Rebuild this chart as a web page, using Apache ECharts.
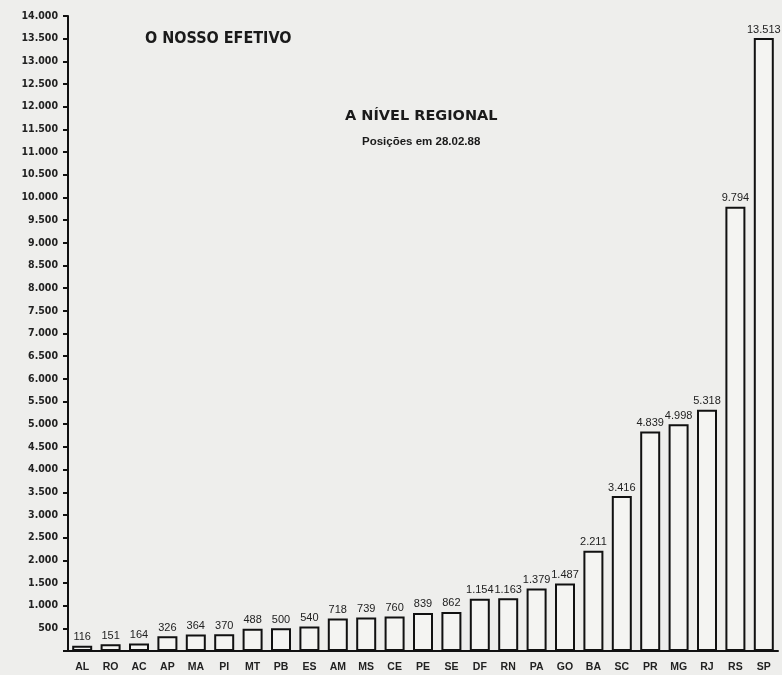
<!DOCTYPE html>
<html>
<head>
<meta charset="utf-8">
<script src="https://cdn.jsdelivr.net/npm/echarts@6/dist/echarts.min.js"></script>
<style>
  html, body { margin: 0; padding: 0; background: #eeeeec; }
  #chart { width: 782px; height: 675px; }
</style>
</head>
<body>
<div id="chart"></div>
<script>
// regions (UF) and headcount at 28.02.88
const states = ['AL', 'RO', 'AC', 'AP', 'MA', 'PI', 'MT', 'PB', 'ES', 'AM', 'MS', 'CE', 'PE',
  'SE', 'DF', 'RN', 'PA', 'GO', 'BA', 'SC', 'PR', 'MG', 'RJ', 'RS', 'SP'];
const headcount = [116, 151, 164, 326, 364, 370, 488, 500, 540, 718, 739, 760, 839,
  862, 1154, 1163, 1379, 1487, 2211, 3416, 4839, 4998, 5318, 9794, 13513];
const yMax = 14000;
const yStep = 500;

// 13513 -> "13.513"
const fmt = (v) => String(v).replace(/\B(?=(\d{3})+(?!\d))/g, '.');

const chart = echarts.init(document.getElementById('chart'));

const option = {
  backgroundColor: '#eeeeec',
  animation: false,
  title: [
    {
      text: 'O NOSSO EFETIVO',
      left: 140, top: 26,
      textStyle: { fontFamily: 'DejaVu Sans Condensed, Liberation Sans Narrow, sans-serif', fontSize: 16, fontWeight: 'bold', color: '#1a1a1a' }
    },
    {
      text: 'A NÍVEL REGIONAL',
      left: 340, top: 104,
      textStyle: { fontFamily: 'DejaVu Sans, Liberation Sans, sans-serif', fontSize: 14.5, fontWeight: 'bold', color: '#1a1a1a' }
    },
    {
      text: 'Posições em 28.02.88',
      left: 357, top: 131,
      textStyle: { fontFamily: 'Liberation Sans, Arial, sans-serif', fontSize: 11.5, fontWeight: 'bold', color: '#1a1a1a' }
    }
  ],
  grid: { left: 68, right: 4, top: 16, bottom: 24 },
  xAxis: {
    type: 'category',
    data: states,
    axisLine: { lineStyle: { color: '#111', width: 2 } },
    axisTick: { show: false },
    axisLabel: {
      interval: 0, margin: 11,
      fontFamily: 'Liberation Sans, Arial, sans-serif',
      fontSize: 10.5, fontWeight: 'bold', color: '#222'
    }
  },
  yAxis: {
    type: 'value',
    min: 0, max: yMax, interval: yStep,
    axisLine: { show: true, lineStyle: { color: '#111', width: 2 } },
    axisTick: { show: true, length: 5, lineStyle: { color: '#111', width: 2 } },
    splitLine: { show: false },
    axisLabel: {
      margin: 10,
      fontFamily: 'DejaVu Sans Condensed, Liberation Sans, sans-serif',
      fontSize: 10.5, fontWeight: 'bold', color: '#222',
      formatter: (v) => (v === 0 ? '' : fmt(v))
    }
  },
  series: [
    {
      type: 'bar',
      data: headcount,
      barWidth: 20,
      itemStyle: { color: '#f4f4f2', borderColor: '#111', borderWidth: 2 },
      label: {
        show: true, position: 'top', distance: 3,
        fontFamily: 'Liberation Sans, Arial, sans-serif',
        fontSize: 11, color: '#222',
        formatter: (p) => fmt(p.value)
      }
    }
  ]
};

chart.setOption(option);
</script>
</body>
</html>
